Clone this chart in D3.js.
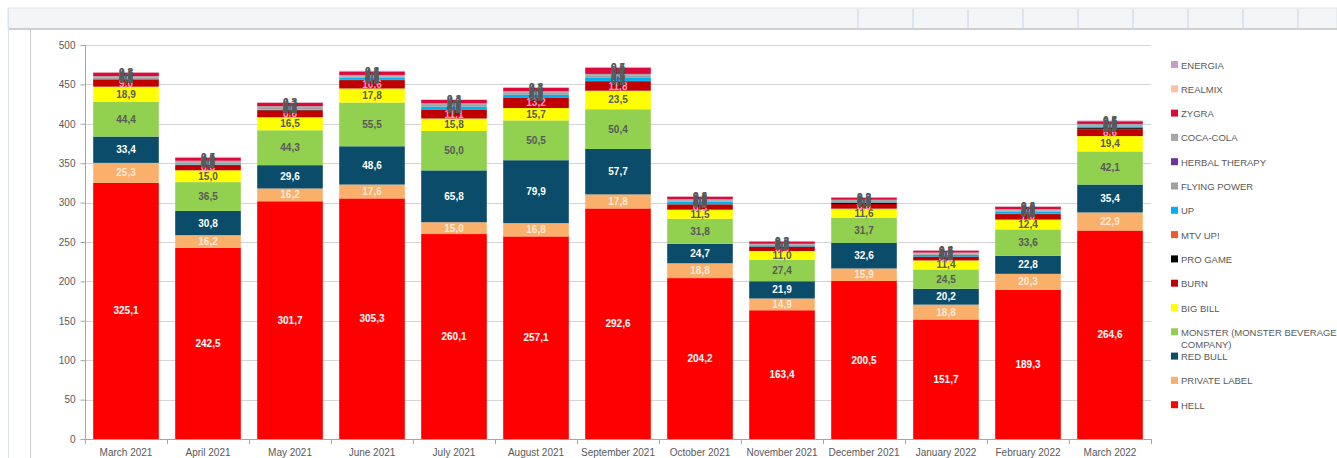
<!DOCTYPE html>
<html>
<head>
<meta charset="utf-8">
<script src="https://cdn.jsdelivr.net/npm/d3@7"></script>
<style>
  body { margin: 0; background: #fff; }
  svg { display: block; font-family: "Liberation Sans", Arial, sans-serif; }
</style>
</head>
<body>
<div id="chart"></div>
<script>
// categories
const months = ["March 2021", "April 2021", "May 2021", "June 2021", "July 2021", "August 2021",
  "September 2021", "October 2021", "November 2021", "December 2021", "January 2022",
  "February 2022", "March 2022"];

// series values (bottom to top)
const hell         = [325.1, 242.5, 301.7, 305.3, 260.1, 257.1, 292.6, 204.2, 163.4, 200.5, 151.7, 189.3, 264.6];
const privateLabel = [25.3, 16.2, 16.2, 17.6, 15.0, 16.8, 17.8, 18.8, 14.9, 15.9, 18.8, 20.3, 22.9];
const redBull      = [33.4, 30.8, 29.6, 48.6, 65.8, 79.9, 57.7, 24.7, 21.9, 32.6, 20.2, 22.8, 35.4];
const monster      = [44.4, 36.5, 44.3, 55.5, 50.0, 50.5, 50.4, 31.8, 27.4, 31.7, 24.5, 33.6, 42.1];
const bigBill      = [18.9, 15.0, 16.5, 17.8, 15.8, 15.7, 23.5, 11.5, 11.0, 11.6, 11.4, 12.4, 19.4];
const burn         = [9.0, 6.6, 8.8, 10.6, 11.1, 13.2, 11.8, 6.5, 5.4, 6.0, 4.5, 7.0, 8.6];
const proGame      = [0.3, 0.3, 0.4, 0.3, 0.4, 0.3, 0.4, 0.4, 0.3, 1.5, 0.4, 0.5, 1.5];
const mtvUp        = [0.1, 0.1, 0.1, 0.1, 0.2, 0.2, 0.2, 0.2, 0.1, 0.2, 0.1, 0.2, 0.2];
const up           = [0.4, 0.5, 0.5, 2.8, 3.5, 3.3, 3.9, 3.0, 0.5, 0.5, 2.2, 2.5, 2.0];
const flyingPower  = [1.5, 2.0, 2.0, 1.5, 2.0, 2.2, 2.5, 1.8, 1.5, 1.5, 1.5, 1.5, 1.5];
const herbal       = [0.1, 0.1, 0.1, 0.1, 0.1, 0.1, 0.1, 0.1, 0.1, 0.1, 0.1, 0.1, 0.1];
const cocaCola     = [2.0, 2.5, 2.2, 1.8, 2.0, 2.0, 2.4, 1.5, 1.2, 1.5, 1.2, 1.5, 1.5];
const zygra        = [4.5, 4.0, 4.3, 4.5, 4.3, 4.5, 8.0, 3.0, 3.0, 2.8, 2.5, 3.0, 3.5];
const realmix      = [0.3, 0.4, 0.3, 0.3, 0.3, 0.3, 0.4, 0.3, 0.3, 0.3, 0.3, 0.3, 0.5];
const energia      = [0.3, 0.5, 0.3, 0.4, 0.4, 0.3, 0.5, 0.4, 0.3, 0.3, 0.4, 0.4, 0.5];

const seriesNames = ["HELL", "PRIVATE LABEL", "RED BULL", "MONSTER (MONSTER BEVERAGE COMPANY)", "BIG BILL",
  "BURN", "PRO GAME", "MTV UP!", "UP", "FLYING POWER", "HERBAL THERAPY", "COCA-COLA", "ZYGRA", "REALMIX", "ENERGIA"];
const seriesValues = [hell, privateLabel, redBull, monster, bigBill, burn, proGame, mtvUp, up,
  flyingPower, herbal, cocaCola, zygra, realmix, energia];
const seriesColors = ["#ff0000", "#fab06b", "#0a4c6a", "#92d050", "#ffff00", "#c00000", "#000000", "#f05a28",
  "#00b0f0", "#a0a0a0", "#7030a0", "#a6a6a6", "#dc0a3c", "#ffbfa0", "#cc99cc"];
const labelColors = ["#ffffff", "#fde9d9", "#ffffff", "#595959", "#595959", "#ff99cc", "#595959", "#595959",
  "#595959", "#595959", "#595959", "#595959", "#595959", "#595959", "#595959"];

const yTicks = [0, 50, 100, 150, 200, 250, 300, 350, 400, 450, 500];

const W = 1337, H = 458;
const svg = d3.select("#chart").append("svg").attr("width", W).attr("height", H);

// spreadsheet frame around the chart
svg.append("rect").attr("x", 8).attr("y", 8).attr("width", W - 8).attr("height", 21)
  .attr("fill", "#f4f5f7").attr("stroke", "#dfe4ea");
for (let cx = 858; cx < W; cx += 55) {
  svg.append("line").attr("x1", cx).attr("x2", cx).attr("y1", 9).attr("y2", 28)
    .attr("stroke", "#c6d4e4");
}
svg.append("line").attr("x1", 8).attr("x2", W).attr("y1", 29).attr("y2", 29).attr("stroke", "#cfcfcf").attr("stroke-width", 2);
svg.append("line").attr("x1", 8.5).attr("x2", 8.5).attr("y1", 8).attr("y2", H).attr("stroke", "#dbe3ee");
svg.append("line").attr("x1", 30.5).attr("x2", 30.5).attr("y1", 29).attr("y2", H).attr("stroke", "#cfcfcf");

const x = d3.scaleBand().domain(months).range([85, 1151]).paddingInner(0.2).paddingOuter(0.1);
const y = d3.scaleLinear().domain([0, 500]).range([439, 45]);

// gridlines
svg.append("g").selectAll("line").data(yTicks.slice(1)).join("line")
  .attr("x1", 85).attr("x2", 1151)
  .attr("y1", d => Math.round(y(d)) + 0.5).attr("y2", d => Math.round(y(d)) + 0.5)
  .attr("stroke", "#d4d4d4");

// stacked data
const rows = months.map((m, i) => {
  const r = { month: m };
  seriesNames.forEach((s, k) => { r[s] = seriesValues[k][i]; });
  return r;
});
const stacked = d3.stack().keys(seriesNames)(rows);

const layers = svg.append("g").selectAll("g").data(stacked).join("g")
  .attr("fill", (d, k) => seriesColors[k]);
layers.selectAll("rect").data(d => d).join("rect")
  .attr("x", d => x(d.data.month))
  .attr("width", x.bandwidth())
  .attr("y", d => y(d[1]))
  .attr("height", d => y(d[0]) - y(d[1]));

// data labels
const fmt = v => v.toFixed(1).replace(".", ",");
const labels = svg.append("g").attr("font-size", 10).attr("font-weight", "bold").attr("text-anchor", "middle");
stacked.forEach((layer, k) => {
  labels.append("g").attr("fill", labelColors[k]).selectAll("text").data(layer).join("text")
    .attr("x", d => x(d.data.month) + x.bandwidth() / 2)
    .attr("y", d => (y(d[0]) + y(d[1])) / 2 + 3.5)
    .text(d => fmt(d[1] - d[0]));
});

// y axis
const yAxis = svg.append("g").attr("transform", "translate(85.5,0)")
  .call(d3.axisLeft(y).tickValues(yTicks).tickSize(5).tickPadding(5));
yAxis.select(".domain").attr("stroke", "#a6a6a6").attr("d", "M0," + y(500) + "V" + y(0));
yAxis.selectAll(".tick line").attr("stroke", "#a6a6a6");
yAxis.selectAll("text").attr("fill", "#595959").attr("font-size", 10).attr("font-family", "Liberation Sans, Arial");

// x axis
const xAxis = svg.append("g").attr("transform", "translate(0,439.5)")
  .call(d3.axisBottom(x).tickSize(0).tickPadding(9));
xAxis.select(".domain").attr("stroke", "#a6a6a6").attr("d", "M85,0H1151");
xAxis.selectAll("text").attr("fill", "#595959").attr("font-size", 10).attr("font-family", "Liberation Sans, Arial");
// category separators
svg.append("g").selectAll("line").data(months.concat(["end"])).join("line")
  .attr("x1", (d, i) => Math.round(85 + i * x.step()) + 0.5)
  .attr("x2", (d, i) => Math.round(85 + i * x.step()) + 0.5)
  .attr("y1", 439).attr("y2", 444).attr("stroke", "#a6a6a6");

// legend (top to bottom in reverse series order)
const legendOrder = seriesNames.map((s, k) => k).reverse();
const legend = svg.append("g").attr("font-size", 9.5).attr("fill", "#595959");
legendOrder.forEach((k, j) => {
  const ly = 65 + j * 24.3;
  const g = legend.append("g").attr("transform", `translate(1171,${ly})`);
  g.append("rect").attr("x", 0).attr("y", -4).attr("width", 7).attr("height", 7).attr("fill", seriesColors[k]);
  const t = g.append("text").attr("x", 10).attr("y", 3.5);
  if (seriesNames[k].startsWith("MONSTER")) {
    t.append("tspan").attr("x", 10).text("MONSTER (MONSTER BEVERAGE");
    t.append("tspan").attr("x", 10).attr("dy", 12).text("COMPANY)");
  } else {
    t.text(seriesNames[k]);
  }
});
</script>
</body>
</html>
